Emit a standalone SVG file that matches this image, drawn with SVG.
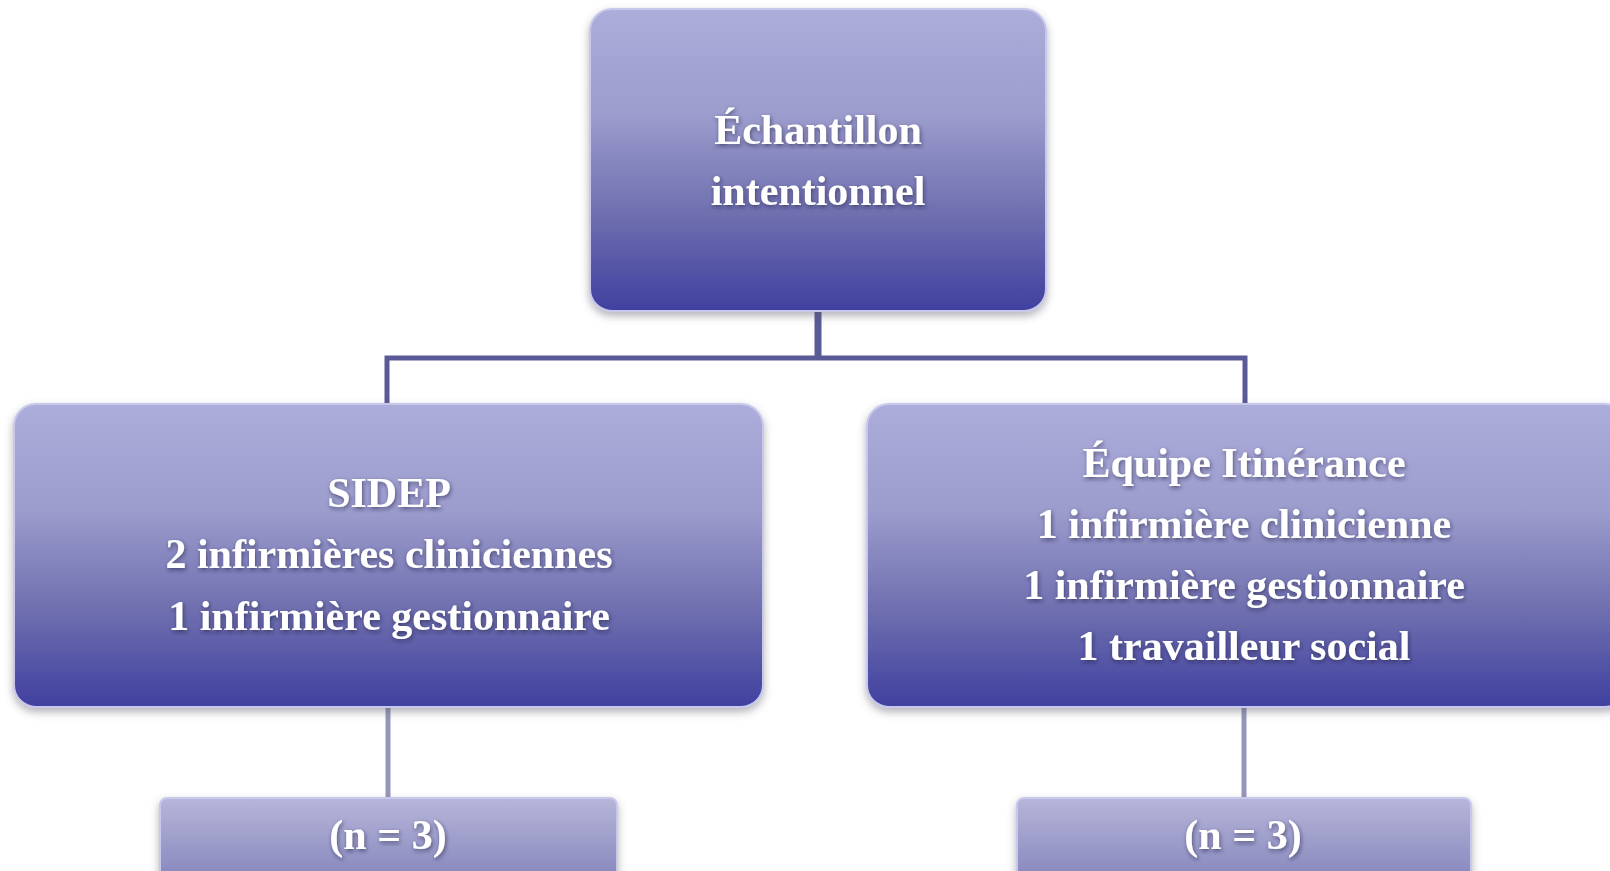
<svg xmlns="http://www.w3.org/2000/svg" width="1610" height="871" viewBox="0 0 1610 871">
<defs>
<linearGradient id="gMain" x1="0" y1="0" x2="0" y2="1">
<stop offset="0" stop-color="#adaddb"/>
<stop offset="0.35" stop-color="#9c9ccd"/>
<stop offset="0.7" stop-color="#6c6cae"/>
<stop offset="1" stop-color="#4040a0"/>
</linearGradient>
<linearGradient id="gSmall" x1="0" y1="0" x2="0" y2="1">
<stop offset="0" stop-color="#b6b6da"/>
<stop offset="1" stop-color="#8282ba"/>
</linearGradient>
<linearGradient id="gGloss" x1="0" y1="0" x2="0" y2="1">
<stop offset="0" stop-color="#ffffff" stop-opacity="0.9"/>
<stop offset="1" stop-color="#ffffff" stop-opacity="0"/>
</linearGradient>
<filter id="shadow" x="-5%" y="-5%" width="110%" height="115%">
<feDropShadow dx="0" dy="4" stdDeviation="4" flood-color="#555566" flood-opacity="0.45"/>
</filter>
<filter id="tshadow" x="-10%" y="-30%" width="120%" height="160%">
<feDropShadow dx="1" dy="2" stdDeviation="2" flood-color="#202040" flood-opacity="0.6"/>
</filter>
</defs>
<style>
.box{fill:url(#gMain);stroke:#c8c8ec;stroke-width:2;filter:url(#shadow)}
.sbox{fill:url(#gSmall);stroke:#c8c8ec;stroke-width:2;filter:url(#shadow)}
.gloss{fill:none;stroke:url(#gGloss);stroke-width:5;stroke-linecap:round}
.lbl{font-family:"Liberation Serif","Times New Roman",serif;font-weight:bold;font-size:42px;fill:#ffffff;text-anchor:middle;filter:url(#tshadow)}
.conn{fill:none;stroke:#5a5a96;stroke-width:5}
.conn2{fill:none;stroke:#9696ba;stroke-width:5}
</style>
<rect width="1610" height="871" fill="#ffffff"/>
<g id="connectors">
<line class="conn" x1="818" y1="311" x2="818" y2="358" style="stroke-width:7"/>
<polyline class="conn" points="387,404 387,358 1245,358 1245,404"/>
<line class="conn2" x1="388" y1="707" x2="388" y2="798"/>
<line class="conn2" x1="1244" y1="707" x2="1244" y2="798"/>
</g>
<g id="node-echantillon">
<rect class="box" x="590" y="9" width="456" height="302" rx="22"/>
<line class="gloss" x1="612" y1="15" x2="1024" y2="15"/>
<text class="lbl" x="818" y="144">Échantillon</text>
<text class="lbl" x="818" y="205">intentionnel</text>
</g>
<g id="node-sidep">
<rect class="box" x="14" y="404" width="749" height="303" rx="22"/>
<line class="gloss" x1="36" y1="410" x2="741" y2="410"/>
<text class="lbl" x="389" y="507">SIDEP</text>
<text class="lbl" x="389" y="568">2 infirmières cliniciennes</text>
<text class="lbl" x="389" y="630">1 infirmière gestionnaire</text>
</g>
<g id="node-equipe">
<rect class="box" x="867" y="404" width="760" height="303" rx="22"/>
<line class="gloss" x1="889" y1="410" x2="1605" y2="410"/>
<text class="lbl" x="1244" y="477">Équipe Itinérance</text>
<text class="lbl" x="1244" y="538">1 infirmière clinicienne</text>
<text class="lbl" x="1244" y="599">1 infirmière gestionnaire</text>
<text class="lbl" x="1244" y="660">1 travailleur social</text>
</g>
<g id="node-n-sidep">
<rect class="sbox" x="160" y="798" width="457" height="90" rx="7"/>
<line class="gloss" x1="168" y1="803" x2="609" y2="803"/>
<text class="lbl" x="388" y="849">(n = 3)</text>
</g>
<g id="node-n-equipe">
<rect class="sbox" x="1017" y="798" width="454" height="90" rx="7"/>
<line class="gloss" x1="1025" y1="803" x2="1463" y2="803"/>
<text class="lbl" x="1243" y="849">(n = 3)</text>
</g>
</svg>
